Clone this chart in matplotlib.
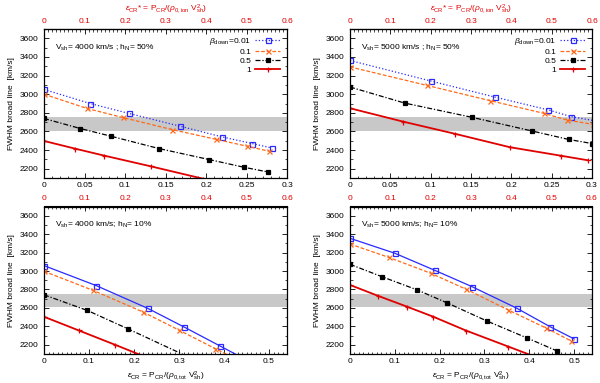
import matplotlib.pyplot as plt
from matplotlib.ticker import MultipleLocator, FixedLocator, FuncFormatter

plt.rcParams['font.family'] = ['Liberation Sans', 'DejaVu Sans']
plt.rcParams['mathtext.fontset'] = 'custom'
plt.rcParams['mathtext.rm'] = 'Liberation Sans'
plt.rcParams['mathtext.it'] = 'Liberation Sans:italic'
plt.rcParams['font.size'] = 6

beta_labels = [r'$\beta_{\rm down}$=0.01', '0.1', '0.5', '1']

# observed FWHM band [km/s]
band_lo, band_hi = 2610, 2750

# top axis ticks (eps_CR*)
top_ticks = [0, 0.1, 0.2, 0.3, 0.4, 0.5, 0.6]

# top left: V_sh = 4000 km/s, h_N = 50%
tl_eps = [[0, 0.057, 0.105, 0.168, 0.220, 0.257, 0.281],
          [0, 0.053, 0.097, 0.158, 0.212, 0.251, 0.278],
          [0, 0.045, 0.083, 0.142, 0.204, 0.247, 0.277],
          [0, 0.038, 0.074, 0.132, 0.196, 0.26]]
tl_fwhm = [[3051, 2900, 2793, 2656, 2541, 2470, 2423],
           [3000, 2847, 2750, 2620, 2516, 2441, 2387],
           [2739, 2631, 2548, 2416, 2298, 2215, 2164],
           [2498, 2416, 2341, 2225, 2093, 1970]]

# top right: V_sh = 5000 km/s, h_N = 50%
tr_eps = [[0, 0.1, 0.18, 0.246, 0.274, 0.32],
          [0, 0.095, 0.173, 0.24, 0.269, 0.301],
          [0, 0.068, 0.151, 0.226, 0.271, 0.3],
          [0, 0.066, 0.13, 0.198, 0.261, 0.295]]
tr_fwhm = [[3362, 3142, 2968, 2831, 2759, 2690],
           [3293, 3095, 2932, 2795, 2723, 2676],
           [3077, 2904, 2752, 2604, 2514, 2470],
           [2849, 2705, 2575, 2431, 2340, 2290]]

# bottom left: V_sh = 4000 km/s, h_N = 10%
bl_eps = [[0, 0.116, 0.231, 0.312, 0.390, 0.46],
          [0, 0.108, 0.219, 0.300, 0.381, 0.45],
          [0, 0.0965, 0.186, 0.32],
          [0, 0.0775, 0.158, 0.24]]
bl_fwhm = [[3059, 2842, 2594, 2391, 2190, 2010],
           [2997, 2792, 2558, 2359, 2157, 1990],
           [2742, 2572, 2374, 2070],
           [2504, 2355, 2200, 2040]]

# bottom right: V_sh = 5000 km/s, h_N = 10%
br_eps = [[0, 0.100, 0.189, 0.272, 0.372, 0.446, 0.5],
          [0, 0.086, 0.180, 0.259, 0.353, 0.438, 0.493],
          [0, 0.071, 0.150, 0.217, 0.305, 0.396, 0.463],
          [0, 0.063, 0.127, 0.185, 0.259, 0.353, 0.44]]
br_fwhm = [[3355, 3193, 3008, 2831, 2597, 2397, 2264],
           [3293, 3149, 2976, 2803, 2578, 2380, 2243],
           [3073, 2939, 2795, 2654, 2459, 2272, 2131],
           [2849, 2730, 2614, 2506, 2354, 2181, 2020]]

colors = ['#2a2aff', '#ff6a1a', 'black', '#e00000']
markers = ['s', 'x', 's', '+']

W, H = 600, 383
fig = plt.figure(figsize=(6, 3.83), dpi=100)


def make_panel(box, eps, fwhm, xmax, ratio, label, top_panel):
    x0, y0, x1, y1 = box
    ax = fig.add_axes([x0/W, 1-y1/H, (x1-x0)/W, (y1-y0)/H])
    ax.axhspan(band_lo, band_hi, color='#c8c8c8', lw=0, zorder=0)
    blue_ls = ':' if top_panel else '-'
    lstyles = [blue_ls, (0, (3, 1.5)), (0, (4, 1.5, 1, 1.5)), '-']
    lws = [0.9, 0.9, 0.9, 1.3]
    for i in range(4):
        ax.plot(eps[i], fwhm[i], color=colors[i], ls=lstyles[i], lw=lws[i],
                marker=markers[i], ms=3.6 if i != 2 else 2.8,
                mfc='none' if i == 0 else colors[i], mew=0.9,
                label=beta_labels[i])
    ax.set_xlim(0, xmax)
    ax.set_ylim(2100, 3700)
    ax.yaxis.set_major_locator(MultipleLocator(200))
    ax.yaxis.set_minor_locator(MultipleLocator(100))
    if top_panel:
        ax.xaxis.set_major_locator(MultipleLocator(0.05))
    else:
        ax.xaxis.set_major_locator(MultipleLocator(0.1))
    ax.xaxis.set_minor_locator(MultipleLocator(0.01))
    ax.xaxis.set_major_formatter(FuncFormatter(lambda v, p: '%g' % round(v, 3)))
    ax.tick_params(which='both', direction='in', right=True, top=False)
    ax.tick_params(which='major', length=3.5, width=0.6, pad=3)
    ax.tick_params(which='minor', length=1.8, width=0.5)
    ax.tick_params(axis='y', pad=4)
    for s in ax.spines.values():
        s.set_linewidth(0.9)
    ax.set_ylabel('FWHM broad line  [km/s]', labelpad=3)

    sec = ax.secondary_xaxis('top', functions=(lambda x: x*ratio, lambda x: x/ratio))
    sec.xaxis.set_major_locator(FixedLocator(top_ticks))
    sec.xaxis.set_minor_locator(FixedLocator([k/100 for k in range(61)]))
    sec.xaxis.set_major_formatter(FuncFormatter(lambda v, p: '%g' % round(v, 3)))
    sec.tick_params(which='both', direction='in', labelcolor='#e00000')
    sec.tick_params(which='major', length=3.5, width=0.6, pad=3)
    sec.tick_params(which='minor', length=1.8, width=0.5)

    ax.text(0.045, 0.875, label, transform=ax.transAxes, va='center', ha='left')
    if top_panel:
        fig.text((x0 + x1)/2/W, 1 - 9/H,
                 r'$\epsilon_{\rm CR}$* = P$_{\rm CR}$/($\rho_{\rm 0,ion}$ V$_{\rm sh}^{\rm 2}$)',
                 color='#e00000', ha='center', va='center')
        ax.legend(loc='upper right', frameon=False, markerfirst=False,
                  handlelength=3.0, handletextpad=0.5, labelspacing=0.15,
                  borderaxespad=0.6, borderpad=0.2)
    else:
        ax.set_xlabel(r'$\epsilon_{\rm CR}$ = P$_{\rm CR}$/($\rho_{\rm 0,tot}$ V$_{\rm sh}^{\rm 2}$)',
                      labelpad=3)
    return ax


make_panel((44, 29, 287, 178), tl_eps, tl_fwhm, 0.3, 2.0,
           r'V$_{\rm sh}$= 4000 km/s ; h$_{\rm N}$= 50%', True)
make_panel((350, 29, 592, 178), tr_eps, tr_fwhm, 0.3, 2.0,
           r'V$_{\rm sh}$= 5000 km/s ; h$_{\rm N}$= 50%', True)
make_panel((44, 206.5, 287, 354), bl_eps, bl_fwhm, 0.54, 1/0.9,
           r'V$_{\rm sh}$= 4000 km/s; h$_{\rm N}$= 10%', False)
make_panel((350, 206.5, 592, 354), br_eps, br_fwhm, 0.54, 1/0.9,
           r'V$_{\rm sh}$= 5000 km/s; h$_{\rm N}$= 10%', False)

fig.savefig('out.png', dpi=100)
